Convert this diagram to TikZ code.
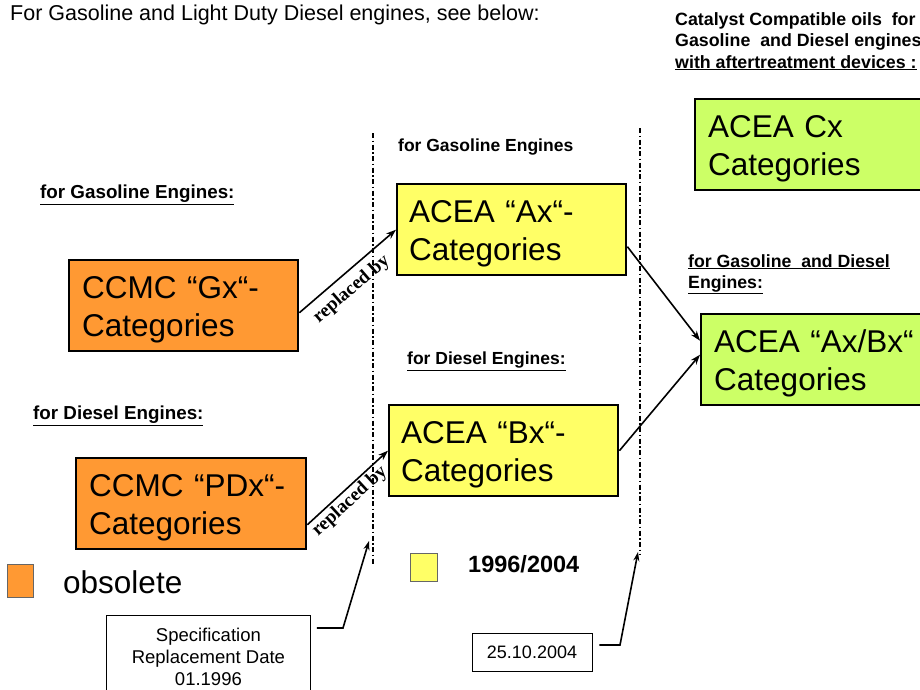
\documentclass[tikz,border=0pt]{standalone}
\usepackage{fontspec}
\setmainfont{Liberation Sans}
\newfontfamily\serifbold{Liberation Serif}
\usetikzlibrary{arrows.meta,calc}
\definecolor{orng}{HTML}{FF9933}
\definecolor{ylw}{HTML}{FFFF66}
\definecolor{lime}{HTML}{CCFF66}
\tikzset{
  catbox/.style={draw=black, line width=2.4pt, anchor=north west, align=left,
    inner xsep=12pt, inner ysep=0pt, minimum height=91pt, text height=30pt,
    font=\fontsize{31.5}{38}\selectfont},
  lbl/.style={anchor=north west, inner sep=0pt, align=left,
    font=\bfseries\fontsize{18}{21.5}\selectfont},
  conn/.style={line width=1.6pt, -{Stealth[length=10pt,width=7pt]}},
  repl/.style={sloped, font=\serifbold\bfseries\fontsize{19}{20}\selectfont, inner sep=2pt},
  divider/.style={line width=1.8pt, dash pattern=on 5pt off 2.5pt on 1.5pt off 2.5pt},
  infobox/.style={draw=black, line width=0.8pt, align=center, fill=white,
    font=\fontsize{18.5}{22}\selectfont},
  legsq/.style={draw=black!60, line width=0.6pt, anchor=north west, inner sep=0pt}
}
\begin{document}
\begin{tikzpicture}[x=1pt,y=-1pt]
\useasboundingbox[fill=white] (0,0) rectangle (920,690);

% dividers
\coordinate (d1t) at (373,133); \coordinate (d1b) at (373,565);
\coordinate (d2t) at (640,128); \coordinate (d2b) at (640,555);
\draw[divider] (d1t) -- (d1b);
\draw[divider] (d2t) -- (d2b);

% texts
\node[anchor=north west, inner sep=0pt, font=\fontsize{21.5}{24}\selectfont] (title) at (10,5)
  {For Gasoline and Light Duty Diesel engines, see below:};
\node[lbl, font=\bfseries\fontsize{17.8}{21.5}\selectfont] (catal) at (675,12)
  {Catalyst Compatible oils\ \ for\\Gasoline\ \ and Diesel engines\\\underline{with aftertreatment devices :}};
\node[lbl, font=\bfseries\fontsize{17.5}{21}\selectfont] (lgA) at (398,139) {for Gasoline Engines};
\node[lbl, font=\bfseries\fontsize{18.8}{22}\selectfont] (lgG) at (40,185) {\underline{for Gasoline Engines:}};
\node[lbl, font=\bfseries\fontsize{17.5}{21}\selectfont] (ldB) at (407,352) {\underline{for Diesel Engines:}};
\node[lbl, font=\bfseries\fontsize{18.8}{22}\selectfont] (ldP) at (33,406) {\underline{for Diesel Engines:}};
\node[lbl, font=\bfseries\fontsize{17.7}{21.5}\selectfont] (lgd) at (688,254) {\underline{for Gasoline\ \ and Diesel}\\\underline{Engines:}};

% boxes
\node[catbox, fill=lime, minimum width=240pt, text width=214pt] (cx) at (694,98) {ACEA Cx\\Categories};
\node[catbox, fill=ylw, minimum width=229pt, text width=205pt] (ax) at (396,183) {ACEA “Ax“-\\Categories};
\node[catbox, fill=orng, minimum width=229pt, text width=203pt, inner xsep=13pt] (gx) at (68,259) {CCMC “Gx“-\\Categories};
\node[catbox, fill=ylw, minimum width=229pt, text width=205pt] (bx) at (388,404) {ACEA “Bx“-\\Categories};
\node[catbox, fill=orng, minimum width=230pt, text width=204pt, inner xsep=13pt] (pdx) at (75,457) {CCMC “PDx“-\\Categories};
\node[catbox, fill=lime, minimum width=240pt, text width=214pt] (axbx) at (700,313) {ACEA “Ax/Bx“\\Categories};

% connectors
\draw[conn] ([yshift=-7pt]gx.east) -- node[repl, pos=0.43, below=5pt] {replaced by} (ax.west);
\draw[conn] ([yshift=-21pt]pdx.east) -- node[repl, pos=0.43, below=0pt] {replaced by} (bx.west);
\draw[conn] ([yshift=-17pt]ax.east) -- ([yshift=19pt]axbx.west);
\draw[conn] (bx.east) -- ([yshift=5pt]axbx.west);

% legend
\node[legsq, fill=orng, minimum width=26pt, minimum height=33pt] (sqo) at (7,564) {};
\node[anchor=base west, inner sep=0pt, font=\fontsize{31.5}{36}\selectfont] (obs) at (63,593) {obsolete};
\node[legsq, fill=ylw, minimum width=27pt, minimum height=28pt] (sqy) at (410,553) {};
\node[anchor=base west, inner sep=0pt, font=\bfseries\fontsize{23.5}{26}\selectfont] (yrs) at (468,572) {1996/2004};

% info boxes
\node[infobox, anchor=north west, minimum width=204pt, minimum height=82pt] (spec) at (106,615)
  {Specification\\Replacement Date\\01.1996};
\node[infobox, minimum width=120pt, minimum height=38pt, font=\fontsize{18}{22}\selectfont] (date) at (532,652) {25.10.2004};

\coordinate (s0) at ($(spec.north east)+(6,13)$);
\coordinate (s1) at (343,628);
\coordinate (s2) at (369,541);
\draw[line width=1.6pt, -{Stealth[length=9pt,width=6pt]}] (s0) -- (s1) -- (s2);
\coordinate (t0) at ($(date.east)+(7,-7)$);
\coordinate (t1) at (620,645);
\coordinate (t2) at (638,552);
\draw[line width=1.6pt, -{Stealth[length=9pt,width=6pt]}] (t0) -- (t1) -- (t2);
\end{tikzpicture}
\end{document}
